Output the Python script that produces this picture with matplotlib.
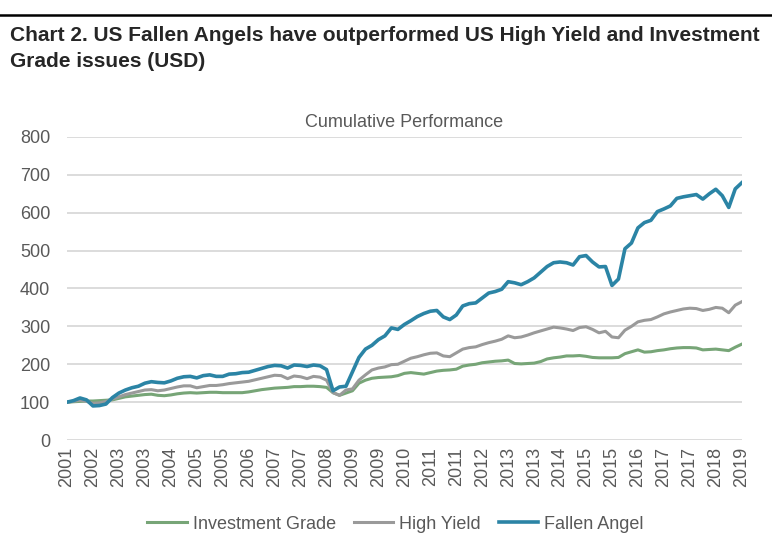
import numpy as np
import matplotlib.pyplot as plt

plt.rcParams['font.family'] = ['Liberation Sans', 'DejaVu Sans']

# year labels shown on the x axis (one every 8 months)
tick_labels = ['2001', '2002', '2003', '2003', '2004', '2005', '2005', '2006', '2007',
               '2007', '2008', '2009', '2009', '2010', '2011', '2011', '2012', '2013',
               '2013', '2014', '2015', '2015', '2016', '2017', '2017', '2018', '2019']

# cumulative performance, every 2 months
investment_grade = [100, 101, 102, 103, 103, 104, 105, 106, 110, 114, 116, 118, 120, 121, 118,
                    117, 119, 122, 124, 125, 124, 125, 126, 126, 125, 125, 125, 125, 127, 130,
                    133, 135, 137, 138, 139, 141, 141, 142, 142, 141, 139, 125, 118, 124, 130,
                    150, 158, 163, 165, 166, 167, 170, 176, 178, 176, 174, 178, 182, 184, 185,
                    187, 195, 198, 200, 204, 206, 208, 209, 211, 202, 201, 202, 203, 207, 214,
                    217, 219, 222, 222, 223, 221, 218, 217, 217, 217, 218, 228, 233, 238, 232,
                    233, 236, 238, 241, 243, 244, 244, 243, 238, 239, 240, 238, 236, 245, 253]

high_yield = [100, 102, 105, 102, 97, 98, 102, 108, 114, 120, 124, 128, 132, 133, 130,
              132, 136, 140, 143, 143, 138, 141, 144, 144, 146, 149, 151, 153, 155, 159,
              163, 167, 171, 170, 162, 169, 167, 162, 168, 166, 158, 125, 118, 132, 135,
              158, 172, 185, 190, 193, 199, 200, 208, 216, 220, 225, 229, 230, 222, 220,
              230, 240, 244, 246, 252, 257, 261, 266, 275, 270, 272, 277, 283, 288, 293,
              298, 296, 293, 289, 297, 299, 292, 283, 287, 272, 270, 290, 300, 312, 316,
              318, 325, 333, 338, 342, 346, 348, 347, 342, 345, 350, 348, 336, 356, 365]

fallen_angel = [100, 104, 111, 106, 90, 91, 95, 112, 124, 132, 138, 142, 150, 154, 152,
                151, 156, 163, 167, 168, 164, 170, 172, 168, 168, 174, 175, 178, 179, 184,
                189, 194, 197, 196, 190, 198, 197, 194, 198, 196, 186, 130, 140, 142, 180,
                218, 240, 250, 265, 275, 296, 292, 305, 315, 326, 334, 340, 342, 325, 318,
                330, 354, 360, 362, 375, 388, 392, 398, 418, 415, 410, 418, 428, 443, 458,
                468, 470, 468, 462, 484, 487, 470, 457, 458, 408, 425, 505, 520, 560, 574,
                580, 603, 610, 618, 638, 642, 645, 648, 636, 650, 662, 645, 614, 663, 679]

fig = plt.figure(figsize=(7.72, 5.49), dpi=100)
ax = fig.add_axes([0.0868, 0.1985, 0.874, 0.552])

x = np.arange(len(fallen_angel))
ax.plot(x, investment_grade, color='#77a577', lw=2.2, label='Investment Grade')
ax.plot(x, high_yield, color='#9a9a9a', lw=2.2, label='High Yield')
ax.plot(x, fallen_angel, color='#2b84a5', lw=2.6, label='Fallen Angel')

ax.set_xlim(0, len(fallen_angel) - 1)
ax.set_ylim(0, 800)
ax.set_yticks(range(0, 801, 100))
ax.set_xticks(np.arange(0, len(fallen_angel), 4))
ax.set_xticklabels(tick_labels, rotation=90)
ax.tick_params(axis='both', length=0, labelsize=13, colors='#595959')
ax.tick_params(axis='y', pad=12)
ax.tick_params(axis='x', pad=5)
ax.grid(axis='y', color='#d9d9d9', lw=1.3)
ax.set_axisbelow(True)
for s in ax.spines.values():
    s.set_visible(False)

ax.set_title('Cumulative Performance', fontsize=13, color='#595959', pad=7)

# rule above the heading
fig.add_artist(plt.Line2D([0, 1], [0.973, 0.973], color='black', lw=1.8))

fig.text(0.013, 0.952, 'Chart 2. US Fallen Angels have outperformed US High Yield and Investment',
         fontsize=15, fontweight='bold', color='#262626', va='top')
fig.text(0.013, 0.906, 'Grade issues (USD)', fontsize=15, fontweight='bold', color='#262626',
         va='top')

fig.legend(loc='lower center', bbox_to_anchor=(0.512, 0.0), ncol=3, frameon=False,
           fontsize=13, handlelength=2.2, columnspacing=1.0, handletextpad=0.3,
           labelcolor='#595959')

fig.savefig('out.png', dpi=100)
